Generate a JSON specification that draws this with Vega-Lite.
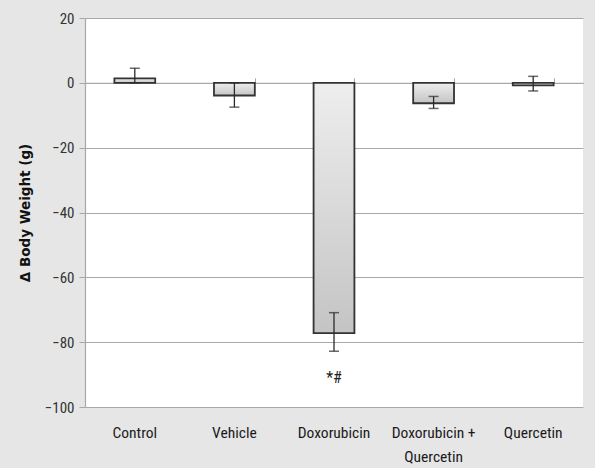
{
  "$schema": "https://vega.github.io/schema/vega-lite/v6.json",
  "width": 498,
  "height": 389,
  "autosize": "none",
  "padding": {"left": 85, "top": 18, "right": 12, "bottom": 61},
  "background": "#e6e6e6",
  "config": {
    "view": {"fill": "white", "stroke": null},
    "axis": {"labelFont": "Liberation Sans Narrow, Roboto Condensed, Roboto", "labelColor": "#222", "labelFontSize": 14}
  },
  "data": {
    "values": [
      {"group": "Control", "mean": 1.4, "lo": 0, "hi": 4.5, "note": ""},
      {"group": "Vehicle", "mean": -3.9, "lo": -7.5, "hi": 0, "note": ""},
      {"group": "Doxorubicin", "mean": -77.2, "lo": -82.8, "hi": -70.9, "note": "*#"},
      {"group": "Doxorubicin + Quercetin", "mean": -6.3, "lo": -7.9, "hi": -4.2, "note": ""},
      {"group": "Quercetin", "mean": -0.8, "lo": -2.5, "hi": 2.0, "note": ""}
    ]
  },
  "layer": [
    {
      "mark": {
        "type": "bar",
        "stroke": "#333333",
        "strokeWidth": 1.8,
        "fill": {
          "gradient": "linear", "x1": 0, "y1": 0, "x2": 0, "y2": 1,
          "stops": [{"offset": 0, "color": "#eeeeee"}, {"offset": 1, "color": "#c4c4c4"}]
        }
      },
      "encoding": {
        "x": {
          "field": "group", "type": "nominal", "sort": null,
          "scale": {"paddingInner": 0.59, "paddingOuter": 0.295},
          "axis": {
            "orient": "bottom", "title": null, "labelAngle": 0, "domain": false, "ticks": false,
            "labelPadding": 25, "labelBaseline": "middle", "labelFontSize": 15.5, "labelColor": "#1a1a1a",
            "labelExpr": "datum.label == 'Doxorubicin + Quercetin' ? ['Doxorubicin +', 'Quercetin'] : datum.label",
            "labelLineHeight": 24
          }
        },
        "y": {
          "field": "mean", "type": "quantitative",
          "scale": {"domain": [-100, 20], "nice": false},
          "axis": {
            "values": [-100, -80, -60, -40, -20, 0, 20],
            "title": "Δ Body Weight (g)",
            "titleFont": "DejaVu Sans", "titleFontWeight": "bold", "titleFontSize": 13.5, "titleColor": "#111",
            "titlePadding": 12,
            "gridColor": "#a8a8a8", "gridWidth": 1.2,
            "domainColor": "#a8a8a8", "domainWidth": 1.2,
            "tickColor": "#a8a8a8", "tickSize": 6, "labelPadding": 5, "labelFontSize": 15,
            "labelColor": "#333"
          }
        }
      }
    },
    {
      "mark": {"type": "rule", "color": "#2a2a2a", "strokeWidth": 1.3},
      "encoding": {
        "x": {"field": "group", "type": "nominal", "sort": null, "axis": null},
        "y": {"field": "lo", "type": "quantitative"},
        "y2": {"field": "hi"}
      }
    },
    {
      "mark": {"type": "tick", "color": "#2a2a2a", "thickness": 1.5, "size": 10},
      "encoding": {
        "x": {"field": "group", "type": "nominal", "sort": null, "axis": null},
        "y": {"field": "lo", "type": "quantitative"}
      }
    },
    {
      "mark": {"type": "tick", "color": "#2a2a2a", "thickness": 1.5, "size": 10},
      "encoding": {
        "x": {
          "field": "group", "type": "nominal", "sort": null,
          "axis": {
            "orient": "top", "offset": -64.8, "title": null, "labels": false,
            "domainColor": "#a8a8a8", "domainWidth": 1.2,
            "tickColor": "#a8a8a8", "tickSize": 5, "tickBand": "extent", "grid": false
          }
        },
        "y": {"field": "hi", "type": "quantitative"}
      }
    },
    {
      "mark": {"type": "text", "dy": 27, "font": "Liberation Sans Narrow, Roboto Condensed, Roboto", "fontSize": 16, "color": "#222", "baseline": "middle"},
      "encoding": {
        "x": {"field": "group", "type": "nominal", "sort": null, "axis": null},
        "y": {"field": "lo", "type": "quantitative"},
        "text": {"field": "note"}
      }
    }
  ],
  "resolve": {"axis": {"x": "independent"}}
}
